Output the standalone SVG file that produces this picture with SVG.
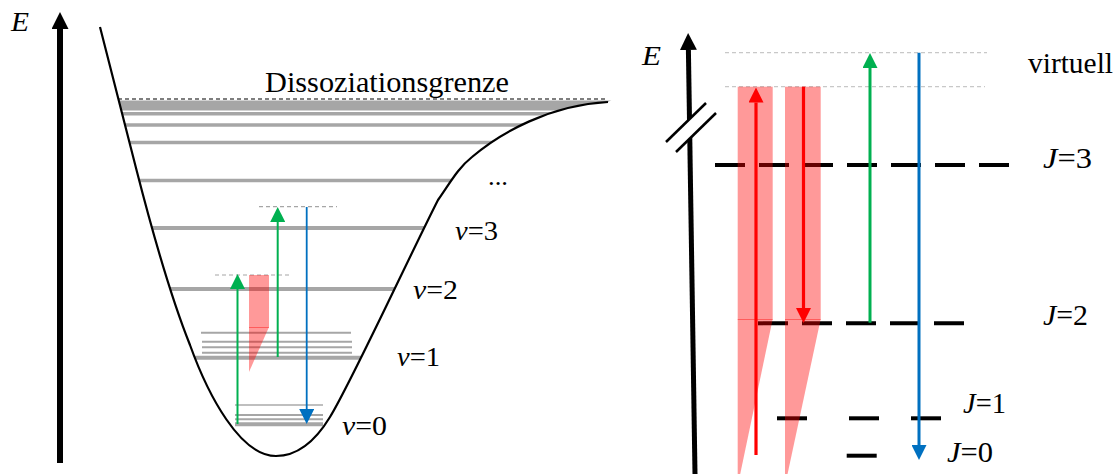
<svg xmlns="http://www.w3.org/2000/svg" width="1120" height="474" viewBox="0 0 1120 474">
<style>
.txt{font-family:"Liberation Serif","Times New Roman",serif;fill:#000}
.it{font-style:italic}
.lvl{stroke:#a6a6a6;fill:none}
.lvl-l{stroke:#bfbfbf;fill:none}
.virt{stroke:#a6a6a6;stroke-width:1.2;stroke-dasharray:4 3;fill:none}
.virt-r{stroke:#c8c8c8;stroke-width:1.2;stroke-dasharray:4 3;fill:none}
.pink{fill:#ff0000;fill-opacity:0.4;stroke:none}
.jl{stroke:#000;stroke-width:4;fill:none}
.axis{stroke:#000;fill:none}
</style>
<defs>
<marker id="ah-green" markerUnits="userSpaceOnUse" markerWidth="15" markerHeight="15" viewBox="0 0 15 15" refX="0" refY="7.5" orient="auto"><path d="M0,0 L15,7.5 L0,15 z" fill="#00b050"/></marker>
<marker id="ah-blue" markerUnits="userSpaceOnUse" markerWidth="15" markerHeight="15" viewBox="0 0 15 15" refX="0" refY="7.5" orient="auto"><path d="M0,0 L15,7.5 L0,15 z" fill="#0070c0"/></marker>
<marker id="ah-red" markerUnits="userSpaceOnUse" markerWidth="15" markerHeight="15" viewBox="0 0 15 15" refX="0" refY="7.5" orient="auto"><path d="M0,0 L15,7.5 L0,15 z" fill="#ff0000"/></marker>
<marker id="ah-axis" markerUnits="userSpaceOnUse" markerWidth="17" markerHeight="17" viewBox="0 0 17 17" refX="0" refY="8.5" orient="auto"><path d="M0,0 L17,8.5 L0,17 z" fill="#000"/></marker>
<clipPath id="well">
<path d="M100,27 L136,168 C148,215 168,290 190,345 C208,395 240,456 276,456 C298,456 316,440 330,417 C350,385 410,255 438,200 C450,183 458,168 472,157 C500,133 550,105 608,102 L620,95 L100,95 Z"/>
</clipPath>
</defs>

<g id="left-panel">
<g id="axis-left">
<line class="axis" x1="60" y1="463" x2="60" y2="29" stroke-width="6" marker-end="url(#ah-axis)"/>
<text class="txt it" x="11" y="31" font-size="27" textLength="18" lengthAdjust="spacingAndGlyphs">E</text>
</g>
<g id="levels-left">
<g clip-path="url(#well)">
<line class="lvl" x1="100" y1="105.5" x2="620" y2="105.5" stroke-width="10"/>
<line class="lvl" x1="100" y1="113.8" x2="620" y2="113.8" stroke-width="3.5"/>
<line class="lvl" x1="100" y1="125" x2="620" y2="125" stroke-width="3.5"/>
<line class="lvl" x1="100" y1="142.5" x2="620" y2="142.5" stroke-width="3.5"/>
<line class="lvl" x1="100" y1="180.5" x2="620" y2="180.5" stroke-width="3.5"/>
<line class="lvl" x1="100" y1="228" x2="620" y2="228" stroke-width="4"/>
<line class="lvl" x1="100" y1="289" x2="620" y2="289" stroke-width="4"/>
<line class="lvl" x1="100" y1="357.7" x2="620" y2="357.7" stroke-width="4"/>
</g>
<line class="lvl" x1="201" y1="332.7" x2="351" y2="332.7" stroke-width="2"/>
<line class="lvl" x1="202" y1="341.7" x2="352" y2="341.7" stroke-width="2"/>
<line class="lvl" x1="202" y1="347.3" x2="352" y2="347.3" stroke-width="2"/>
<line class="lvl" x1="202" y1="352.7" x2="352" y2="352.7" stroke-width="2"/>
<line class="lvl-l" x1="235" y1="405" x2="323" y2="405" stroke-width="2"/>
<line class="lvl" x1="235" y1="415" x2="323" y2="415" stroke-width="2"/>
<line class="lvl" x1="235" y1="419.3" x2="323" y2="419.3" stroke-width="2"/>
<line class="lvl" x1="235" y1="424.3" x2="323" y2="424.3" stroke-width="4"/>
<line x1="118" y1="99" x2="608" y2="99" stroke="#555" stroke-width="1.3" stroke-dasharray="4 3"/>
<line class="virt" x1="215" y1="275" x2="292" y2="275"/>
<line class="virt" x1="259" y1="206.7" x2="337" y2="206.7"/>
</g>
<g id="potential">
<path d="M100,27 L136,168 C148,215 168,290 190,345 C208,395 240,456 276,456 C298,456 316,440 330,417 C350,385 410,255 438,200 C450,183 458,168 472,157 C500,133 550,105 608,102" fill="none" stroke="#000" stroke-width="2.2"/>
</g>
<g id="raman-band-left">
<rect class="pink" x="249" y="275" width="20" height="53"/>
<polygon class="pink" points="249,327 269,327 249,372"/>
</g>
<g id="labels-left">
<text class="txt" x="265" y="92" font-size="29" textLength="244" lengthAdjust="spacingAndGlyphs">Dissoziationsgrenze</text>
<text class="txt" x="488" y="185" font-size="26" textLength="20" lengthAdjust="spacingAndGlyphs">...</text>
<text class="txt" x="455" y="240" font-size="28" textLength="43" lengthAdjust="spacingAndGlyphs"><tspan class="it">v</tspan>=3</text>
<text class="txt" x="413" y="299" font-size="28" textLength="45" lengthAdjust="spacingAndGlyphs"><tspan class="it">v</tspan>=2</text>
<text class="txt" x="397" y="366" font-size="28" textLength="43" lengthAdjust="spacingAndGlyphs"><tspan class="it">v</tspan>=1</text>
<text class="txt" x="342" y="435" font-size="28" textLength="45" lengthAdjust="spacingAndGlyphs"><tspan class="it">v</tspan>=0</text>
</g>
</g>

<g id="right-panel">
<g id="axis-right">
<line class="axis" x1="695" y1="474" x2="688.4" y2="50" stroke-width="5" marker-end="url(#ah-axis)"/>
<polygon points="666,142 706,103 716,113 676,152" fill="#fff"/>
<line x1="666" y1="142" x2="706" y2="103" stroke="#000" stroke-width="2.5"/>
<line x1="676" y1="152" x2="716" y2="113" stroke="#000" stroke-width="2.5"/>
<text class="txt it" x="642" y="65" font-size="27" textLength="19" lengthAdjust="spacingAndGlyphs">E</text>
</g>
<g id="virtual-levels">
<line class="virt-r" x1="725" y1="52.7" x2="987" y2="52.7"/>
<line class="virt-r" x1="725" y1="86.7" x2="985" y2="86.7"/>
</g>
<g id="rot-levels">
<line class="jl" x1="715" y1="165" x2="1010" y2="165" stroke-dasharray="30 14"/>
<line class="jl" x1="758" y1="323.3" x2="964" y2="323.3" stroke-dasharray="30 14"/>
<line class="jl" x1="777" y1="418.3" x2="807" y2="418.3"/>
<line class="jl" x1="849" y1="418.3" x2="879" y2="418.3"/>
<line class="jl" x1="911" y1="418.3" x2="941" y2="418.3"/>
<line class="jl" x1="846.7" y1="455.7" x2="876.7" y2="455.7"/>
</g>
<g id="raman-bands-right">
<rect class="pink" x="737.7" y="86.7" width="35" height="233.3"/>
<polygon class="pink" points="737.7,319 772.7,319 737.7,486"/>
<rect class="pink" x="785" y="86.7" width="35.7" height="233.3"/>
<polygon class="pink" points="785,319 820.7,319 785,486"/>
</g>
<g id="labels-right">
<text class="txt" x="1028" y="73" font-size="29" textLength="85" lengthAdjust="spacingAndGlyphs">virtuell</text>
<text class="txt" x="1043" y="168" font-size="30" textLength="49" lengthAdjust="spacingAndGlyphs"><tspan class="it">J</tspan>=3</text>
<text class="txt" x="1043" y="325" font-size="30" textLength="45" lengthAdjust="spacingAndGlyphs"><tspan class="it">J</tspan>=2</text>
<text class="txt" x="963" y="413" font-size="30" textLength="43" lengthAdjust="spacingAndGlyphs"><tspan class="it">J</tspan>=1</text>
<text class="txt" x="947" y="462" font-size="30" textLength="46" lengthAdjust="spacingAndGlyphs"><tspan class="it">J</tspan>=0</text>
</g>
</g>

<g id="connectors">
<line x1="237.5" y1="424" x2="237.5" y2="289" stroke="#00b050" stroke-width="2" marker-end="url(#ah-green)"/>
<line x1="277.7" y1="357" x2="277.7" y2="222" stroke="#00b050" stroke-width="2" marker-end="url(#ah-green)"/>
<line x1="306.7" y1="207" x2="306.7" y2="409" stroke="#0070c0" stroke-width="1.8" marker-end="url(#ah-blue)"/>
<line x1="756" y1="455" x2="756" y2="102.5" stroke="#ff0000" stroke-width="3.2" marker-end="url(#ah-red)"/>
<line x1="803.5" y1="86.7" x2="803.5" y2="308" stroke="#ff0000" stroke-width="3.2" marker-end="url(#ah-red)"/>
<line x1="870" y1="322.7" x2="870" y2="68" stroke="#00b050" stroke-width="3" marker-end="url(#ah-green)"/>
<line x1="919" y1="52.7" x2="919" y2="445" stroke="#0070c0" stroke-width="3" marker-end="url(#ah-blue)"/>
</g>
</svg>
